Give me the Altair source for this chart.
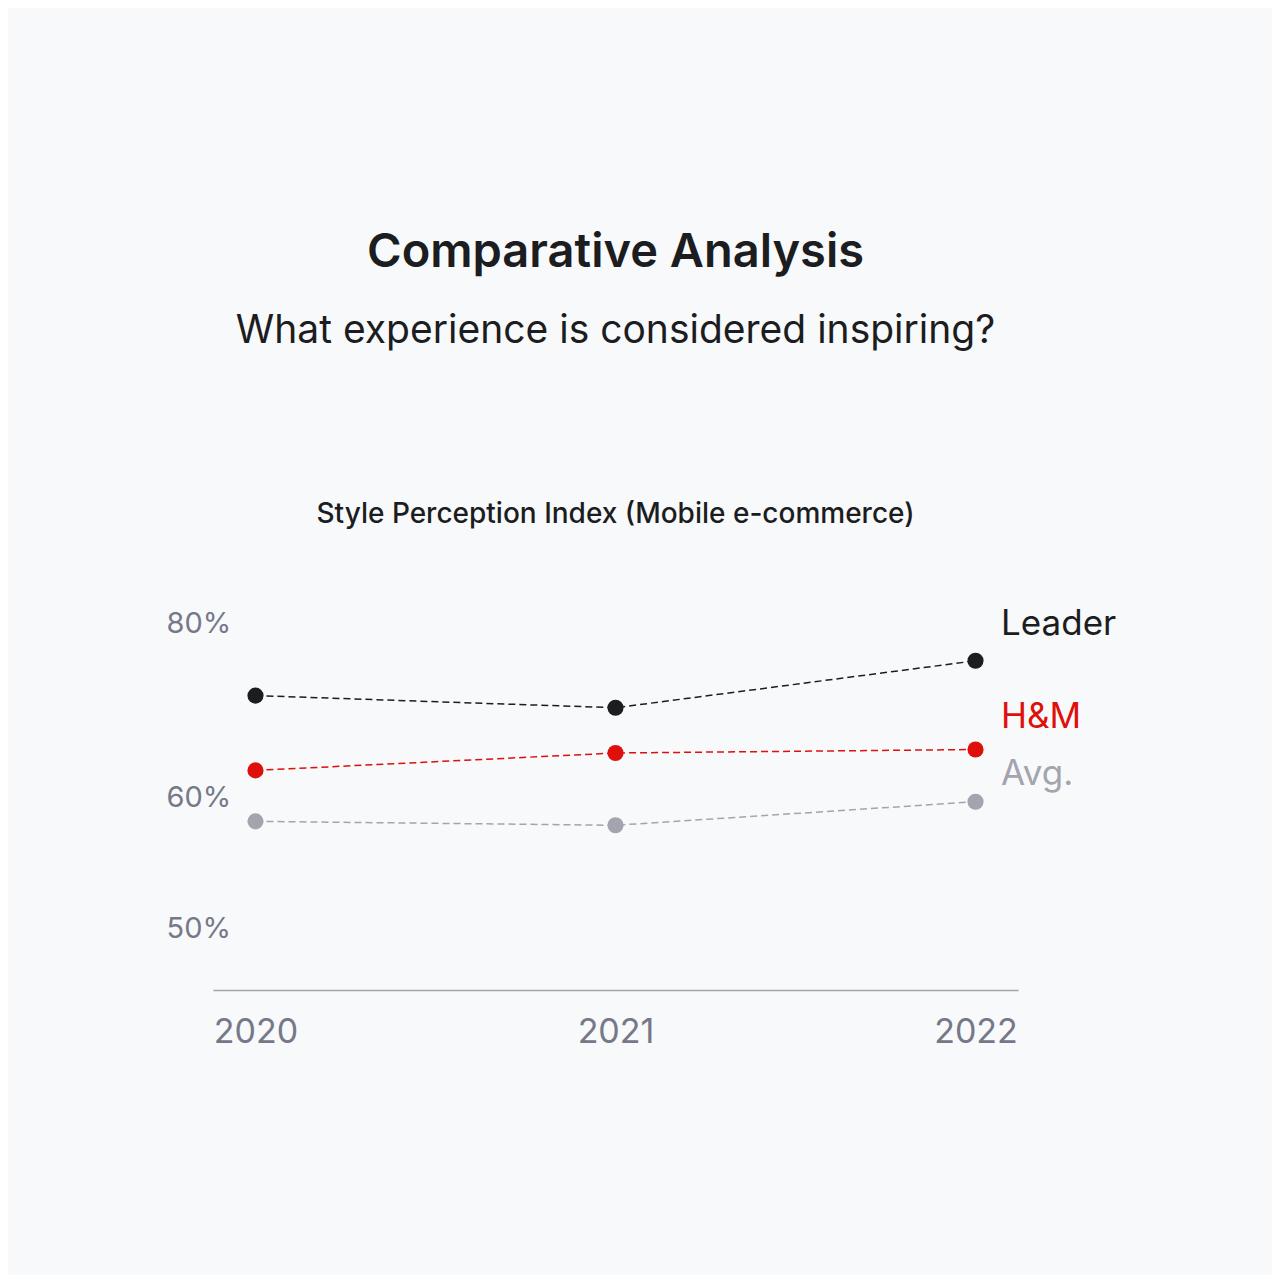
import altair as alt
import pandas as pd

years = ["2020", "2021", "2022"]
series = ["Leader", "H&M", "Avg."]
leader = [71.6, 70.2, 75.6]
hm = [63.0, 65.0, 65.4]
avg = [58.1, 57.8, 59.6]
y_ticks = [50, 60, 80]
colors = ["#1c1d21", "#df0f0c", "#a3a4ae"]
label_dy = {"Leader": -36.5, "H&M": -32.5, "Avg.": -27.6}

rows = []
for s, vals in zip(series, [leader, hm, avg]):
    for yr, v in zip(years, vals):
        rows.append({"series": s, "year": yr, "value": v})
df = pd.DataFrame(rows)

FONT = "Inter"
GRAY = "#767888"
INK = "#1c1d21"

x_enc = alt.X(
    "year:O",
    scale=alt.Scale(type="point", padding=0.118),
    axis=alt.Axis(
        title=None, labelAngle=0, labelFontSize=34, labelColor=GRAY, labelFont=FONT,
        ticks=False, tickSize=0, labelPadding=25, domainColor="#a3a4ae",
        domainWidth=1.5, grid=False,
    ),
)
y_enc = alt.Y(
    "value:Q",
    scale=alt.Scale(domain=[50, 60, 80], range=[348.3, 217.5, 43.5], nice=False, zero=False),
    axis=alt.Axis(
        title=None, values=y_ticks, labelExpr="datum.value + '%'", labelAlign="left",
        labelBaseline="middle", labelPadding=47, labelOffset=1, labelFontSize=29,
        labelColor=GRAY, labelFont=FONT, ticks=False, tickSize=0, domain=False, grid=False,
    ),
)
color_enc = alt.Color("series:N", scale=alt.Scale(domain=series, range=colors), legend=None)

base = alt.Chart(df).encode(x=x_enc, y=y_enc, color=color_enc, detail="series:N")
line = base.mark_line(strokeDash=[7, 4], strokeWidth=1.5)
points = base.mark_circle(size=260, opacity=1)

layers = [line, points]
for s in series:
    layers.append(
        alt.Chart(df)
        .transform_filter(f"datum.year == '2022' && datum.series == '{s}'")
        .mark_text(align="left", baseline="middle", dx=25.5, dy=label_dy[s], fontSize=35, font=FONT)
        .encode(x=x_enc, y=y_enc, text="series:N", color=color_enc)
    )

inner = alt.layer(*layers).properties(
    width=805,
    height=411,
    title=alt.TitleParams(
        "Style Perception Index (Mobile e-commerce)", fontSize=28, font=FONT,
        fontWeight=500, color=INK, anchor="middle", frame="group", offset=50,
    ),
)

chart = (
    alt.vconcat(inner)
    .properties(
        title=alt.TitleParams(
            "Comparative Analysis", subtitle="What experience is considered inspiring?",
            fontSize=47, fontWeight=600, font=FONT, color=INK,
            subtitleFontSize=39, subtitleFont=FONT, subtitleColor=INK, subtitlePadding=35,
            anchor="middle", frame="group", offset=149,
        ),
        padding={"left": 158, "top": 221, "right": 155, "bottom": 226},
        background="#f8f9fb",
    )
    .configure_view(stroke=None)
)

chart.save("out.html", embed_options={"renderer": "svg", "actions": False})
